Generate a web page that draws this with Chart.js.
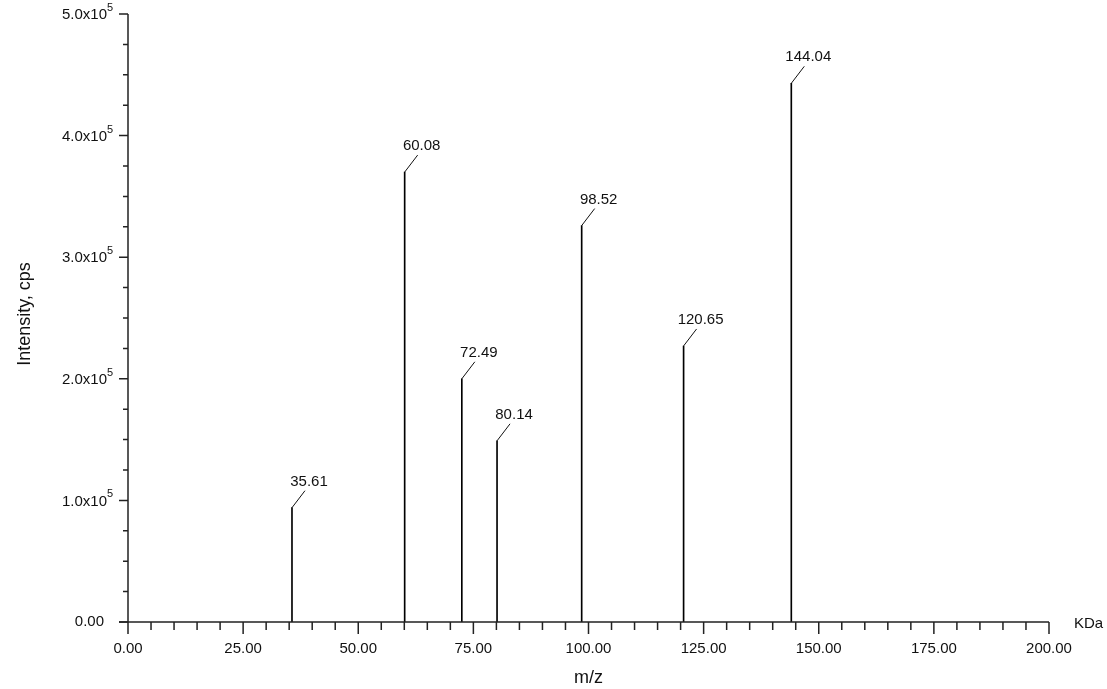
<!DOCTYPE html>
<html lang="en">
<head>
    <meta charset="UTF-8">
    <title>Mass Spectrum</title>
    <script src="https://cdn.jsdelivr.net/npm/chart.js"></script>
    <style>
        body { margin: 0; background: #fff; }
        #wrap { width: 1107px; height: 689px; }
    </style>
</head>
<body>
<div id="wrap"><canvas id="specChart" width="1107" height="689"></canvas></div>
<script>
    // peak positions (m/z) and intensities (cps)
    const peakMz = [35.61, 60.08, 72.49, 80.14, 98.52, 120.65, 144.04];
    const peakIntensity = [94000, 370000, 200000, 149000, 326000, 227000, 443000];
    const peakLabels = ['35.61', '60.08', '72.49', '80.14', '98.52', '120.65', '144.04'];

    const xTicks = [0, 25, 50, 75, 100, 125, 150, 175, 200];
    const xTickLabels = ['0.00', '25.00', '50.00', '75.00', '100.00', '125.00', '150.00', '175.00', '200.00'];
    const yTicks = [0, 100000, 200000, 300000, 400000, 500000];
    const yTickLabels = ['0.00', '1.0x10', '2.0x10', '3.0x10', '4.0x10', '5.0x10'];

    const FONT = '"Liberation Sans", Arial, sans-serif';

    // axes, ticks, labels and peak annotations
    const spectrumDecor = {
        id: 'spectrumDecor',
        afterDraw(chart) {
            const c = chart.ctx;
            const xs = chart.scales.x, ys = chart.scales.y;
            const x0 = xs.getPixelForValue(0), x1 = xs.getPixelForValue(200);
            const y0 = ys.getPixelForValue(0), y1 = ys.getPixelForValue(500000);
            c.save();
            c.strokeStyle = '#222';
            c.lineWidth = 1.5;
            c.beginPath();
            c.moveTo(x0 - 9, y0); c.lineTo(x1, y0);
            c.moveTo(x0, y0); c.lineTo(x0, y1);
            c.stroke();

            // x ticks
            c.beginPath();
            for (let v = 0; v <= 200; v += 5) {
                const px = xs.getPixelForValue(v);
                c.moveTo(px, y0);
                c.lineTo(px, y0 + (v % 25 === 0 ? 12 : 8));
            }
            // y ticks
            for (let v = 0; v <= 500000; v += 25000) {
                const py = ys.getPixelForValue(v);
                c.moveTo(x0, py);
                c.lineTo(x0 - (v % 100000 === 0 ? 9 : 5), py);
            }
            c.stroke();

            c.fillStyle = '#111';
            c.font = '15px ' + FONT;
            c.textAlign = 'center';
            c.textBaseline = 'middle';
            xTicks.forEach((v, i) => c.fillText(xTickLabels[i], xs.getPixelForValue(v), y0 + 27));

            yTicks.forEach((v, i) => {
                const py = ys.getPixelForValue(v);
                c.font = '15px ' + FONT;
                c.textAlign = 'right';
                if (v === 0) {
                    c.fillText(yTickLabels[i], x0 - 24, py);
                } else {
                    c.fillText(yTickLabels[i], x0 - 21, py + 1);
                    c.font = '11px ' + FONT;
                    c.textAlign = 'left';
                    c.fillText('5', x0 - 21, py - 6);
                }
            });

            c.font = '15px ' + FONT;
            c.textAlign = 'left';
            c.fillText('KDa', x1 + 25, y0 + 2);

            c.font = '18px ' + FONT;
            c.textAlign = 'center';
            c.fillText('m/z', (x0 + x1) / 2, y0 + 56);
            c.save();
            c.translate(25, (y0 + y1) / 2 - 4);
            c.rotate(-Math.PI / 2);
            c.fillText('Intensity, cps', 0, 0);
            c.restore();

            // peak annotations
            c.lineWidth = 1;
            c.strokeStyle = '#111';
            c.font = '15px ' + FONT;
            c.textAlign = 'center';
            c.textBaseline = 'alphabetic';
            peakMz.forEach((m, i) => {
                const px = xs.getPixelForValue(m);
                const py = ys.getPixelForValue(peakIntensity[i]);
                c.beginPath();
                c.moveTo(px, py);
                c.lineTo(px + 13, py - 17);
                c.stroke();
                c.fillText(peakLabels[i], px + 17, py - 22);
            });
            c.restore();
        }
    };

    const ctx = document.getElementById('specChart').getContext('2d');
    const chart = new Chart(ctx, {
        type: 'bar',
        data: {
            datasets: [{
                data: peakMz.map((m, i) => ({ x: m, y: peakIntensity[i] })),
                backgroundColor: '#000',
                barThickness: 1,
                borderWidth: 0
            }]
        },
        options: {
            responsive: false,
            animation: false,
            layout: { padding: { left: 0, right: 58, top: 14, bottom: 0 } },
            plugins: { legend: { display: false }, tooltip: { enabled: false } },
            scales: {
                x: {
                    type: 'linear', min: 0, max: 200, offset: false,
                    grid: { display: false }, border: { display: false },
                    ticks: { display: false },
                    afterFit: (s) => { s.height = 67; }
                },
                y: {
                    min: 0, max: 500000,
                    grid: { display: false }, border: { display: false },
                    ticks: { display: false },
                    afterFit: (s) => { s.width = 128; }
                }
            }
        },
        plugins: [spectrumDecor]
    });
</script>
</body>
</html>
